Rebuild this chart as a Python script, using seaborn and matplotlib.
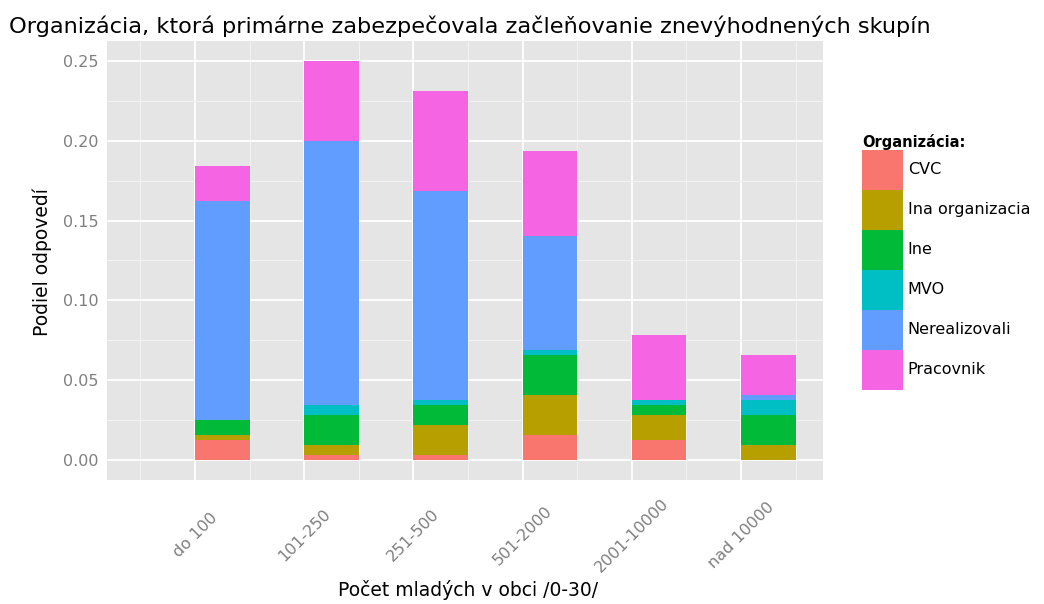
import numpy as np
import pandas as pd
import seaborn as sns
from matplotlib import pyplot as plt
from matplotlib.patches import Patch

categories = ['do 100', '101-250', '251-500', '501-2000', '2001-10000', 'nad 10000']
organizations = ['CVC', 'Ina organizacia', 'Ine', 'MVO', 'Nerealizovali', 'Pracovnik']
colors = ['#F8766D', '#B79F00', '#00BA38', '#00BFC4', '#619CFF', '#F564E3']

# share of answers per organization, one value per category
cvc = [0.0125, 0.0031, 0.0031, 0.0156, 0.0125, 0.0]
ina_organizacia = [0.0031, 0.0063, 0.0188, 0.0250, 0.0156, 0.0094]
ine = [0.0094, 0.0188, 0.0125, 0.0250, 0.0063, 0.0188]
mvo = [0.0, 0.0063, 0.0031, 0.0031, 0.0031, 0.0094]
nerealizovali = [0.1375, 0.1656, 0.1313, 0.0719, 0.0, 0.0031]
pracovnik = [0.0219, 0.0500, 0.0625, 0.0531, 0.0406, 0.0250]

y_ticks = [0.0, 0.05, 0.10, 0.15, 0.20, 0.25]


def build_frame():
    series = [cvc, ina_organizacia, ine, mvo, nerealizovali, pracovnik]
    rows = []
    for org, values in zip(organizations, series):
        for pos, value in enumerate(values, start=1):
            # bars sit to the right of the tick, like in the original
            rows.append([org, pos + 0.25, value])
    return pd.DataFrame(rows, columns=['organizacia', 'pozicia', 'podiel'])


def plot():
    sns.set_style('white')
    plt.rcParams['font.family'] = ['DejaVu Sans']
    plt.rcParams['text.color'] = 'black'

    data = build_frame()
    palette = dict(zip(organizations, colors))

    fig = plt.figure(figsize=(10.44, 6.04), dpi=100)
    ax = fig.add_axes([107 / 1044, 1 - 480 / 604, 716 / 1044, 439 / 604])

    # seaborn stacks the last hue level at the bottom, so reverse the order
    sns.histplot(data=data, x='pozicia', weights='podiel', hue='organizacia',
                 hue_order=organizations[::-1], palette=palette, multiple='stack',
                 binwidth=0.5, binrange=(1, 6.5), alpha=1, linewidth=0,
                 legend=False, ax=ax)

    ax.set_facecolor('#E5E5E5')
    ax.set_axisbelow(True)
    for spine in ax.spines.values():
        spine.set_visible(False)

    ax.set_xlim(0.194, 6.75)
    ax.set_ylim(-0.0125, 0.2625)
    ax.set_xticks(range(1, len(categories) + 1))
    ax.set_xticks(np.arange(0.5, 7, 1), minor=True)
    ax.set_yticks(y_ticks)
    ax.set_yticks(np.arange(0.025, 0.25, 0.05), minor=True)
    ax.set_yticklabels(['%.2f' % t for t in y_ticks])
    ax.set_xticklabels(categories, rotation=45, ha='center', va='center',
                       rotation_mode='anchor')

    ax.grid(which='major', color='white', linewidth=1.3)
    ax.grid(which='minor', color='#F2F2F2', linewidth=0.8)
    ax.tick_params(which='minor', length=0)
    ax.tick_params(axis='both', which='major', length=4, width=0.8, color='#7F7F7F',
                   labelcolor='#7F7F7F', labelsize=11.5)
    ax.tick_params(axis='x', pad=36)
    ax.tick_params(axis='y', pad=2)

    ax.set_xlabel('')
    ax.set_ylabel('')
    fig.text(468 / 1044, 1 - 590 / 604, 'Počet mladých v obci /0-30/', fontsize=13.5,
             ha='center', va='center')
    fig.text(42 / 1044, 1 - 262 / 604, 'Podiel odpovedí', fontsize=13.5,
             rotation=90, ha='center', va='center')
    fig.text(9 / 1044, 1 - 26 / 604,
             'Organizácia, ktorá primárne zabezpečovala začleňovanie znevýhodnených skupín',
             fontsize=16.2, ha='left', va='center')

    handles = [Patch(facecolor=c, edgecolor='none', label=o) for o, c in zip(organizations, colors)]
    fig.legend(handles=handles, title='Organizácia:', loc='upper left',
               bbox_to_anchor=(862 / 1044, 1 - 134 / 604), frameon=False,
               fontsize=11.5, title_fontproperties={'weight': 'bold', 'size': 10.5},
               handlelength=2.57, handleheight=3.47, labelspacing=0, handletextpad=0.3,
               borderpad=0, borderaxespad=0, alignment='left')

    plt.savefig('out.png', dpi=100)


if __name__ == '__main__':
    plot()
